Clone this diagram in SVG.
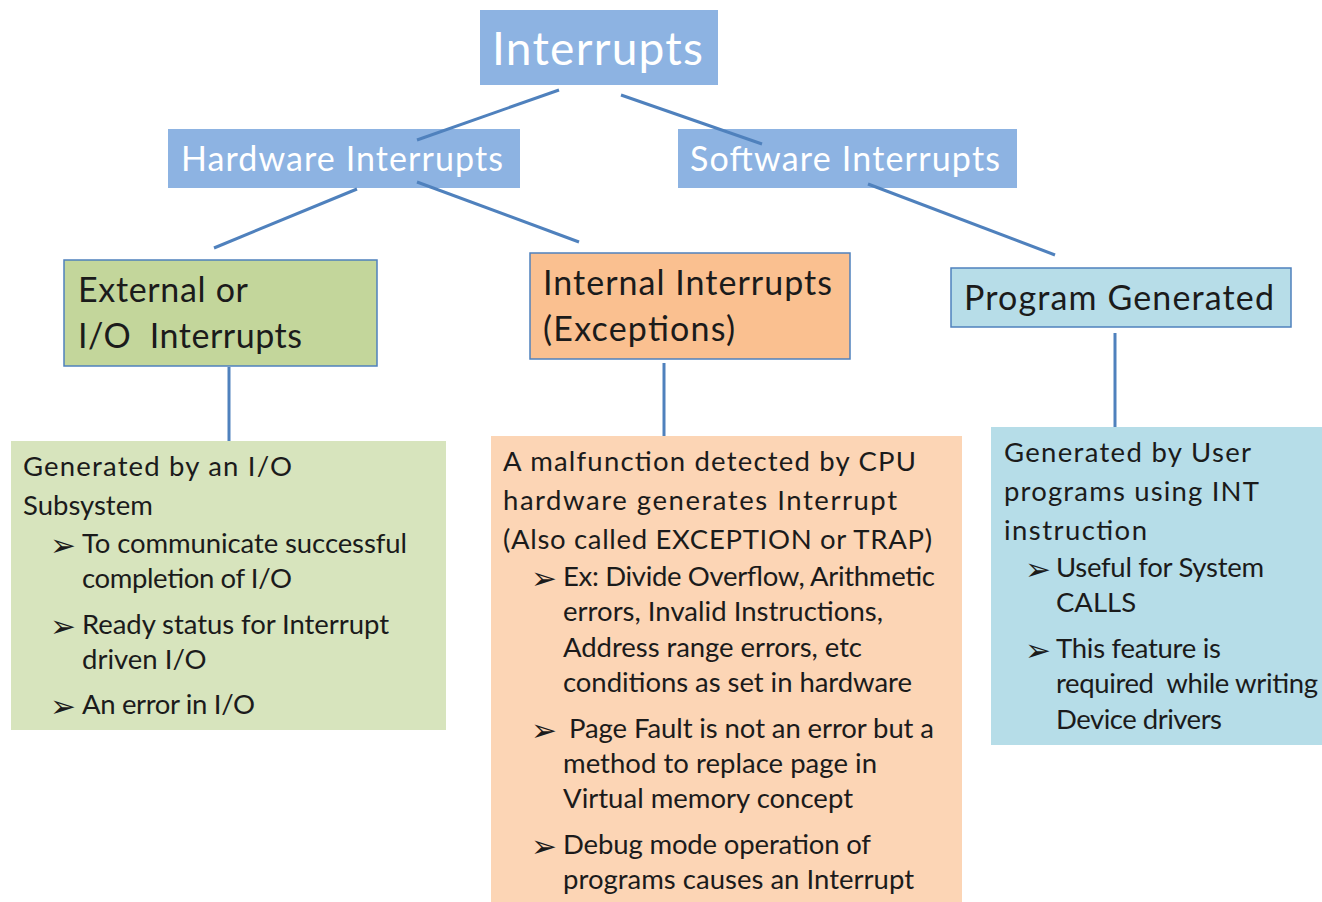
<svg xmlns="http://www.w3.org/2000/svg" width="1322" height="902" viewBox="0 0 1322 902">
  <style>
    text { font-family: Lato, "Open Sans", "Liberation Sans", sans-serif; fill: #1b1b1b; }
    .hdr { fill: #8db3e2; }
    .hdr-t { fill: #ffffff; font-size: 34px; }
    .title-t { fill: #ffffff; font-size: 46px; }
    .lvl2 { stroke: #4f81bd; stroke-width: 1.5; }
    .lvl2-t { font-size: 34px; }
    .body { font-size: 27.5px; }
    .bul { font-family: "DejaVu Sans", sans-serif; font-size: 31px; fill: #1b1b1b; }
    .conn line { stroke: #4f81bd; stroke-width: 3; stroke-linecap: butt; }
  </style>

  <rect width="1322" height="902" fill="#ffffff"/>

  <g id="interrupts">
    <rect class="hdr" x="480" y="10" width="238" height="75"/>
    <text class="title-t" x="492" y="65" textLength="211">Interrupts</text>
  </g>

  <g id="hardware-interrupts">
    <rect class="hdr" x="168" y="129" width="352" height="59"/>
    <text class="hdr-t" x="181" y="171" textLength="322">Hardware Interrupts</text>
  </g>

  <g id="software-interrupts">
    <rect class="hdr" x="678" y="129" width="339" height="59"/>
    <text class="hdr-t" x="690" y="171" textLength="310">Software Interrupts</text>
  </g>

  <g id="external-io">
    <rect class="lvl2" x="64" y="260" width="313" height="106" fill="#c3d69b"/>
    <text class="lvl2-t" x="78" y="302" textLength="170">External or</text>
    <text class="lvl2-t" x="78" y="348" textLength="224" xml:space="preserve">I/O  Interrupts</text>
  </g>

  <g id="internal-exceptions">
    <rect class="lvl2" x="530" y="253" width="320" height="106" fill="#fac090"/>
    <text class="lvl2-t" x="543" y="295" textLength="289">Internal Interrupts</text>
    <text class="lvl2-t" x="543" y="341" textLength="192">(Exceptions)</text>
  </g>

  <g id="program-generated">
    <rect class="lvl2" x="951" y="268" width="340" height="59" fill="#b7dde8"/>
    <text class="lvl2-t" x="964" y="310" textLength="310">Program Generated</text>
  </g>

  <g id="external-details">
    <rect x="11" y="441" width="435" height="289" fill="#d7e4bd"/>
    <text class="body" x="23" y="476" textLength="269">Generated by an I/O</text>
    <text class="body" x="23" y="515">Subsystem</text>
    <text class="bul" x="50" y="556">➢</text>
    <text class="body" x="82" y="553" textLength="325">To communicate successful</text>
    <text class="body" x="82" y="588" textLength="210">completion of I/O</text>
    <text class="bul" x="50" y="637">➢</text>
    <text class="body" x="82" y="634" textLength="307">Ready status for Interrupt</text>
    <text class="body" x="82" y="669">driven I/O</text>
    <text class="bul" x="50" y="717">➢</text>
    <text class="body" x="82" y="714" textLength="173">An error in I/O</text>
  </g>

  <g id="internal-details">
    <rect x="491" y="436" width="471" height="466" fill="#fcd5b5"/>
    <text class="body" x="503" y="471" textLength="413">A malfunction detected by CPU</text>
    <text class="body" x="503" y="510" textLength="394">hardware generates Interrupt</text>
    <text class="body" x="503" y="549" textLength="429">(Also called EXCEPTION or TRAP)</text>
    <text class="bul" x="531" y="589">➢</text>
    <text class="body" x="563" y="586" textLength="372">Ex: Divide Overflow, Arithmetic</text>
    <text class="body" x="563" y="621" textLength="320">errors, Invalid Instructions,</text>
    <text class="body" x="563" y="657" textLength="299">Address range errors, etc</text>
    <text class="body" x="563" y="692" textLength="349">conditions as set in hardware</text>
    <text class="bul" x="531" y="741">➢</text>
    <text class="body" x="569" y="738" textLength="365">Page Fault is not an error but a</text>
    <text class="body" x="563" y="773" textLength="314">method to replace page in</text>
    <text class="body" x="563" y="808" textLength="290">Virtual memory concept</text>
    <text class="bul" x="531" y="857">➢</text>
    <text class="body" x="563" y="854" textLength="308">Debug mode operation of</text>
    <text class="body" x="563" y="889" textLength="351">programs causes an Interrupt</text>
  </g>

  <g id="program-details">
    <rect x="991" y="427" width="331" height="318" fill="#b6dde8"/>
    <text class="body" x="1004" y="462" textLength="247">Generated by User</text>
    <text class="body" x="1004" y="501" textLength="255">programs using INT</text>
    <text class="body" x="1004" y="540" textLength="143">instruction</text>
    <text class="bul" x="1025" y="580">➢</text>
    <text class="body" x="1056" y="577" textLength="208">Useful for System</text>
    <text class="body" x="1056" y="612">CALLS</text>
    <text class="bul" x="1025" y="661">➢</text>
    <text class="body" x="1056" y="658" textLength="165">This feature is</text>
    <text class="body" x="1056" y="693" textLength="262" xml:space="preserve">required  while writing</text>
    <text class="body" x="1056" y="729" textLength="166">Device drivers</text>
  </g>

  <!-- connectors sit above the boxes, as in the slide -->
  <g id="connectors" class="conn">
    <line x1="559" y1="90" x2="417" y2="140"/>
    <line x1="621" y1="95" x2="762" y2="144"/>
    <line x1="357" y1="189" x2="214" y2="248"/>
    <line x1="417" y1="182" x2="579" y2="242"/>
    <line x1="868" y1="184" x2="1055" y2="255"/>
    <line x1="229" y1="367" x2="229" y2="441"/>
    <line x1="664" y1="363" x2="664" y2="436"/>
    <line x1="1115" y1="333" x2="1115" y2="427"/>
  </g>
</svg>
